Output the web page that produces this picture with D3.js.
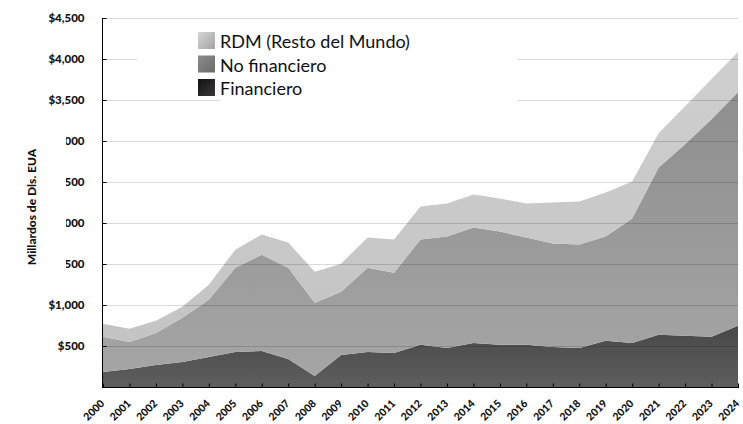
<!DOCTYPE html>
<html>
<head>
<meta charset="utf-8">
<script src="https://cdn.jsdelivr.net/npm/d3@7"></script>
<style>
  body { margin: 0; background: #fff; }
  text { font-family: Lato, "Open Sans", sans-serif; }
</style>
</head>
<body>
<script>
// datos (millardos de dolares)
var years = [2000,2001,2002,2003,2004,2005,2006,2007,2008,2009,2010,2011,2012,
             2013,2014,2015,2016,2017,2018,2019,2020,2021,2022,2023,2024];
var financiero   = [183,220,269,306,367,428,440,342,135,391,428,416,514,477,538,514,514,489,477,563,538,636,624,612,746];
var noFinanciero = [429,330,391,538,697,1027,1174,1113,892,771,1027,978,1284,1357,1407,1382,1308,1260,1260,1271,1517,2042,2336,2653,2849];
var rdm          = [158,160,147,134,183,220,245,306,379,342,367,404,403,404,403,403,416,501,525,538,452,416,464,490,490];
var yTicks = [500,1000,1500,2000,2500,3000,3500,4000,4500];
var legendLabels = ["RDM (Resto del Mundo)", "No financiero", "Financiero"];

var W = 743, H = 424;
var svg = d3.select("body").append("svg")
    .attr("width", W)
    .attr("height", H);

var x = d3.scaleLinear().domain([2000, 2024]).range([103, 738]);
var y = d3.scaleLinear().domain([0, 4500]).range([387, 18]);

var table = years.map(function(yr, i) {
  return {year: yr, fin: financiero[i], nofin: noFinanciero[i], rdm: rdm[i]};
});
var keys = ["fin", "nofin", "rdm"];
var series = d3.stack().keys(keys)(table);

// gradientes
var defs = svg.append("defs");
function grad(id, y1, y2, c1, c2, diag) {
  var g = defs.append("linearGradient").attr("id", id);
  if (diag) {
    g.attr("x1", 0).attr("y1", 0).attr("x2", 1).attr("y2", 1);
  } else {
    g.attr("gradientUnits", "userSpaceOnUse")
      .attr("x1", 0).attr("x2", 0).attr("y1", y1).attr("y2", y2);
  }
  g.append("stop").attr("offset", "0%").attr("stop-color", c1);
  g.append("stop").attr("offset", "100%").attr("stop-color", c2);
}
grad("gFin", 320, 387, "#464646", "#5e5e5e");
grad("gNofin", 90, 387, "#8e8e8e", "#a6a6a6");
grad("gRdm", 50, 387, "#cfcfcf", "#c2c2c2");
grad("sRdm", 0, 0, "#d4d4d4", "#a4a4a4", true);
grad("sNofin", 0, 0, "#8c8c8c", "#6a6a6a", true);
grad("sFin", 0, 0, "#111", "#3a3a3a", true);

var fills = {fin: "url(#gFin)", nofin: "url(#gNofin)", rdm: "url(#gRdm)"};

var area = d3.area()
    .x(function(d) { return x(d.data.year); })
    .y0(function(d) { return y(d[0]); })
    .y1(function(d) { return y(d[1]); });

svg.selectAll("path.band")
  .data(series)
  .enter()
  .append("path")
    .attr("class", "band")
    .attr("d", area)
    .attr("fill", function(s) { return fills[s.key]; });

// lineas de cuadricula
svg.selectAll("line.grid")
  .data(yTicks)
  .enter()
  .append("line")
    .attr("class", "grid")
    .attr("x1", 103).attr("x2", 738)
    .attr("y1", function(d) { return Math.round(y(d)) + 0.5; })
    .attr("y2", function(d) { return Math.round(y(d)) + 0.5; })
    .attr("stroke", "#000")
    .attr("stroke-opacity", 0.15);

// fondo blanco de la leyenda
svg.append("rect").attr("x", 137).attr("y", 26).attr("width", 380).attr("height", 72).attr("fill", "#fff");
svg.append("rect").attr("x", 220).attr("y", 97).attr("width", 297).attr("height", 7).attr("fill", "#fff");

var swatch = ["url(#sRdm)", "url(#sNofin)", "url(#sFin)"];
var leg = svg.append("g");
legendLabels.forEach(function(lbl, i) {
  var yy = 32 + i * 23.5;
  leg.append("rect")
    .attr("x", 198).attr("y", yy)
    .attr("width", 17).attr("height", 17)
    .attr("fill", swatch[i]);
  leg.append("text")
    .attr("x", 220).attr("y", yy + 16)
    .attr("font-size", 18)
    .attr("fill", "#111")
    .text(lbl);
});

// ejes
var yAxis = d3.axisLeft(y)
    .tickValues(yTicks)
    .tickSize(-4)
    .tickPadding(18)
    .tickFormat(function(d) { return "$" + d3.format(",")(d); });

var gy = svg.append("g")
    .attr("transform", "translate(102.5,0)")
    .call(yAxis);
gy.select(".domain").attr("d", "M0," + y(4500) + "V" + y(0));
gy.selectAll("text")
    .attr("font-size", 11.5)
    .attr("font-weight", 900)
    .attr("fill", "#111");

var xAxis = d3.axisBottom(x)
    .tickValues(years)
    .tickSize(-4)
    .tickFormat(d3.format("d"));

var gx = svg.append("g")
    .attr("transform", "translate(0,387.5)")
    .call(xAxis);
gx.select(".domain").attr("d", "M102," + 0 + "H739");
gx.selectAll("text")
    .attr("x", 0).attr("y", 0).attr("dy", "0.35em")
    .attr("transform", "translate(-1,14) rotate(-45)")
    .attr("text-anchor", "end")
    .attr("font-size", 10.5)
    .attr("font-weight", 900)
    .attr("fill", "#111");

// etiquetas recortadas a la izquierda
svg.append("rect").attr("x", 0).attr("y", 128).attr("width", 66).attr("height", 148).attr("fill", "#fff");

svg.append("text")
    .attr("transform", "translate(36,207) rotate(-90)")
    .attr("text-anchor", "middle")
    .attr("font-size", 12)
    .attr("font-weight", 900)
    .attr("fill", "#111")
    .text("Millardos de Dls. EUA");
</script>
</body>
</html>
